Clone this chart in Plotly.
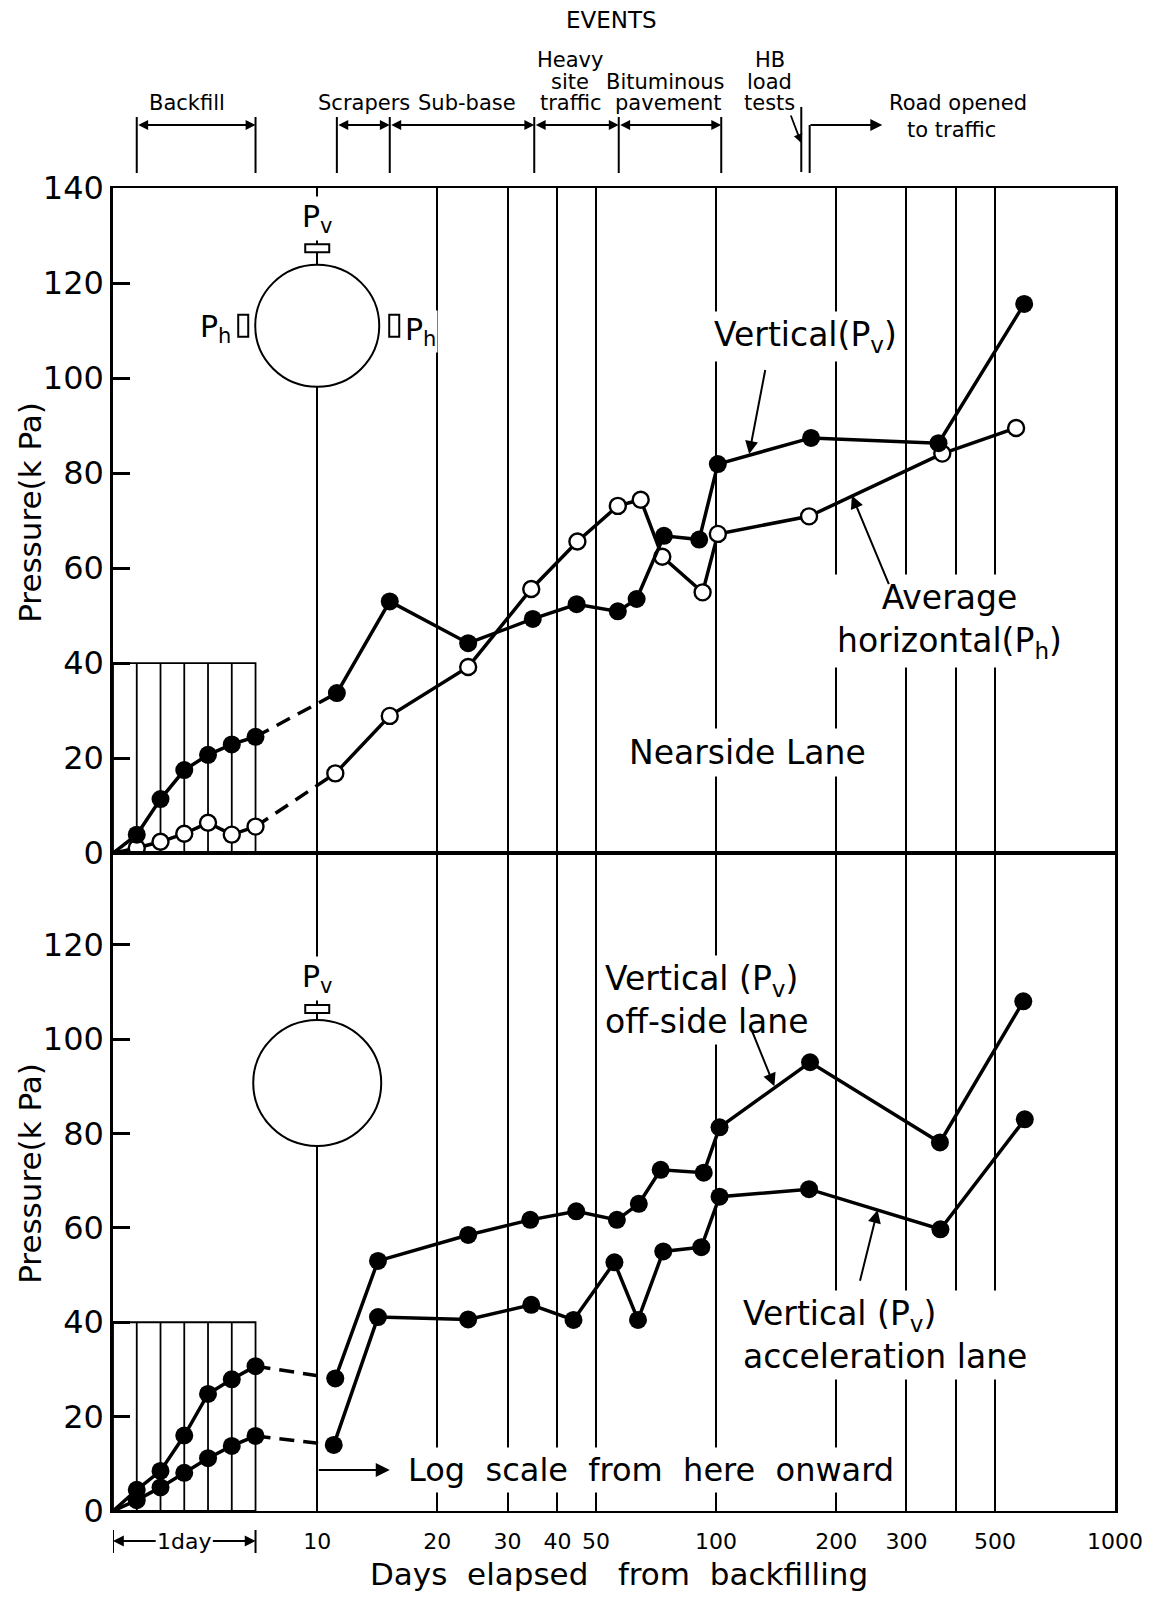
import math
import plotly.graph_objects as go
from plotly.subplots import make_subplots

# ---------------- data ----------------
HOURS = [0, 4, 8, 12, 16, 20, 24]          # first day (linear part of axis), hours

# Nearside lane (top panel)
NEAR_PV_FIRSTDAY = [0, 3.9, 11.4, 17.5, 20.7, 22.9, 24.5]
NEAR_PV_DAYS = [11.2, 15.2, 23.9, 34.7, 44.7, 56.7, 63.2, 74, 90.7, 101, 173, 361, 592]
NEAR_PV = [33.7, 53.0, 44.2, 49.3, 52.4, 50.9, 53.5, 66.8, 66.0, 81.9, 87.4, 86.3, 115.6]

NEAR_PH_FIRSTDAY = [0, 1.1, 2.4, 4.1, 6.4, 3.9, 5.6]
NEAR_PH_DAYS = [11.1, 15.2, 23.9, 34.4, 44.9, 56.7, 64.7, 73.3, 92.5, 101, 171, 369, 565]
NEAR_PH = [16.8, 28.9, 39.2, 55.6, 65.6, 73.1, 74.4, 62.4, 54.9, 67.2, 70.9, 84.1, 89.5]

# Bottom panel
OFF_PV_FIRSTDAY = [0, 4.5, 8.5, 16.0, 24.8, 27.9, 30.7]
OFF_PV_DAYS = [11.1, 14.2, 23.9, 34.2, 44.6, 56.4, 64, 72.6, 93.1, 102, 172, 364, 589]
OFF_PV = [28.1, 53.0, 58.5, 61.7, 63.5, 61.7, 65.1, 72.3, 71.7, 81.3, 95.1, 78.1, 108.0]

ACC_PV_FIRSTDAY = [0, 2.3, 5.0, 8.1, 11.2, 13.8, 15.9]
ACC_PV_DAYS = [11.0, 14.2, 23.9, 34.4, 43.9, 55.6, 63.7, 73.7, 91.8, 102, 171, 365, 594]
ACC_PV = [14.0, 41.1, 40.6, 43.7, 40.5, 52.7, 40.5, 55.0, 55.9, 66.6, 68.2, 59.7, 83.0]

XTICK_DAYS = [10, 20, 30, 40, 50, 100, 200, 300, 400, 500, 1000]
XTICK_TEXT = ["10", "20", "30", "40", "50", "100", "200", "300", "", "500", "1000"]
YTICKS_TOP = [0, 20, 40, 60, 80, 100, 120, 140]
YTICKS_BOTTOM = [0, 20, 40, 60, 80, 100, 120]

# event boundaries (days) and spans
EVENT_BOUNDS = [4 / 24, 1, 11.2, 15.2, 35, 57, 103]
EVENT_SPANS = [(4 / 24, 1), (11.2, 15.2), (15.2, 35), (35, 57), (57, 103)]
HB_TEST_DAY = 163.5
ROAD_OPEN_DAY = 171.6

# ---------------- axis scale: linear first day, broken, log from day 10 ----------------
DAY_UNIT = 144 / 403     # axis units per day on the linear first-day part
LOG_START = 0.512        # axis position of day 10 (start of log part, 1 unit per decade)


def xpos(days):
    if days <= 1:
        return days * DAY_UNIT
    return LOG_START + math.log10(days / 10.0)


XMAX = xpos(1000)

# the page body has an 8 px margin, so the figure is made 8 px smaller
BODY = 8
W, H = 1155 - BODY, 1598 - BODY
ML, MR, MT, MB = 105, 30, 180, 87
PW = W - ML - MR
PH = H - MT - MB
BOTTOM_FRAC = 0.4972


def pxx(p):   # paper x from page pixel column (layout helper for text)
    return (p - BODY - ML) / PW


def pxy(p):   # paper y from page pixel row
    return (H - MB - (p - BODY)) / PH


FONT = "DejaVu Sans"
BLACK = "black"
LW = 3.5

fig = make_subplots(rows=2, cols=1, vertical_spacing=0)


def add_series(row, firstday, days, vals, open_marker):
    marker = dict(size=16 if open_marker else 18,
                  color="white" if open_marker else BLACK,
                  line=dict(color=BLACK, width=2.4 if open_marker else 0))
    xd = [xpos(h / 24) for h in HOURS]
    fig.add_trace(go.Scatter(x=xd, y=firstday, mode="lines",
                             line=dict(color=BLACK, width=LW), hoverinfo="skip"),
                  row=row, col=1)
    fig.add_trace(go.Scatter(x=[xd[-1], xpos(days[0])], y=[firstday[-1], vals[0]],
                             mode="lines",
                             line=dict(color=BLACK, width=LW, dash="15px,9px"),
                             hoverinfo="skip"), row=row, col=1)
    fig.add_trace(go.Scatter(x=[xpos(d) for d in days], y=vals, mode="lines",
                             line=dict(color=BLACK, width=LW), hoverinfo="skip"),
                  row=row, col=1)
    fig.add_trace(go.Scatter(x=xd[1:] + [xpos(d) for d in days],
                             y=list(firstday[1:]) + list(vals), mode="markers",
                             marker=marker, hoverinfo="skip"), row=row, col=1)


add_series(1, NEAR_PH_FIRSTDAY, NEAR_PH_DAYS, NEAR_PH, True)
add_series(1, NEAR_PV_FIRSTDAY, NEAR_PV_DAYS, NEAR_PV, False)
add_series(2, OFF_PV_FIRSTDAY, OFF_PV_DAYS, OFF_PV, False)
add_series(2, ACC_PV_FIRSTDAY, ACC_PV_DAYS, ACC_PV, False)

xt = [xpos(d) for d in XTICK_DAYS]
xaxis_common = dict(range=[0, XMAX], tickvals=xt, ticktext=XTICK_TEXT, ticks="",
                    showgrid=True, gridcolor=BLACK, gridwidth=1.6,
                    showline=True, mirror=True, linecolor=BLACK, linewidth=2,
                    zeroline=False, fixedrange=True)
yaxis_common = dict(ticks="inside", ticklen=17, tickwidth=2.5, tickcolor=BLACK,
                    showgrid=False, showline=True, mirror=True, linecolor=BLACK,
                    linewidth=2.5, zeroline=False,
                    tickfont=dict(family=FONT, size=32, color=BLACK),
                    ticklabelstandoff=0)

fig.update_layout(
    width=W, height=H,
    margin=dict(l=ML, r=MR, t=MT, b=MB),
    paper_bgcolor="white", plot_bgcolor="white",
    showlegend=False,
    font=dict(family=FONT, color=BLACK),
    xaxis=dict(xaxis_common, showticklabels=False),
    xaxis2=dict(xaxis_common, showticklabels=True,
                tickfont=dict(family=FONT, size=22, color=BLACK),
                ticklabelstandoff=10),
    yaxis=dict(yaxis_common, range=[0, 140], tickvals=YTICKS_TOP,
               domain=[BOTTOM_FRAC, 1]),
    yaxis2=dict(yaxis_common, range=[0, 139.4], tickvals=YTICKS_BOTTOM,
                domain=[0, BOTTOM_FRAC]),
)

shapes = []
annotations = []


def txt(**kw):
    d = dict(showarrow=False, xanchor="center", yanchor="middle")
    d.update(kw)
    annotations.append(d)


def arrow(**kw):
    d = dict(text="", showarrow=True, arrowhead=2, arrowsize=1.3, arrowwidth=2,
             arrowcolor=BLACK)
    d.update(kw)
    annotations.append(d)


# hatched first-day block in both panels
for xr, yr in (("x", "y"), ("x2", "y2")):
    shapes.append(dict(type="rect", xref=xr, yref=yr, x0=0, x1=xpos(1), y0=0, y1=40,
                       line=dict(color=BLACK, width=1.8), layer="below"))
    for h in HOURS[1:-1]:
        shapes.append(dict(type="line", xref=xr, yref=yr, x0=xpos(h / 24), x1=xpos(h / 24),
                           y0=0, y1=40, line=dict(color=BLACK, width=1.8), layer="below"))


# pipe sketches
def pipe(xr, yr, cy, r, gauge_y, sides=False):
    shapes.append(dict(type="circle", xref=xr, yref=yr, xsizemode="pixel", ysizemode="pixel",
                       xanchor=xpos(10), yanchor=cy, x0=-r, x1=r, y0=-r + 1, y1=r - 1,
                       line=dict(color=BLACK, width=2), fillcolor="white", layer="above"))
    shapes.append(dict(type="rect", xref=xr, yref=yr, xsizemode="pixel", ysizemode="pixel",
                       xanchor=xpos(10), yanchor=gauge_y, x0=-12, x1=12, y0=-4, y1=4,
                       line=dict(color=BLACK, width=2), fillcolor="white", layer="above"))
    if sides:
        for off in (-74, 77):
            shapes.append(dict(type="rect", xref=xr, yref=yr, xsizemode="pixel",
                               ysizemode="pixel", xanchor=xpos(10), yanchor=cy,
                               x0=off - 5, x1=off + 5, y0=-11, y1=11,
                               line=dict(color=BLACK, width=2), fillcolor="white",
                               layer="above"))


pipe("x", "y", 111.0, 62, 127.3, sides=True)
pipe("x2", "y2", 90.7, 64, 106.4)

lab = dict(family=FONT, size=30, color=BLACK)
txt(xref="x", yref="y", x=xpos(10), y=133.6, text="P<sub>v</sub>", font=lab,
    bgcolor="white", borderpad=2)
txt(xref="x", yref="y", x=xpos(10), y=110.5, xshift=-84, text="P<sub>h</sub>",
    font=lab, bgcolor="white", xanchor="right")
txt(xref="x", yref="y", x=xpos(10), y=109.8, xshift=86, text="P<sub>h</sub>",
    font=lab, bgcolor="white", xanchor="left")
txt(xref="x2", yref="y2", x=xpos(10), y=112.8, text="P<sub>v</sub>", font=lab,
    bgcolor="white", borderpad=2)

big = dict(family=FONT, size=33, color=BLACK)
# top panel labels
txt(xref="x", yref="y", x=xpos(168), y=108.8, text="Vertical(P<sub>v</sub>)",
    font=big, bgcolor="white", borderpad=3)
txt(xref="x", yref="y", x=xpos(385), y=48.8, text="Average<br>horizontal(P<sub>h</sub>)",
    font=big, bgcolor="white", borderpad=3)
txt(xref="x", yref="y", x=xpos(120), y=21.2, text="Nearside Lane", font=big,
    bgcolor="white", borderpad=4)
arrow(xref="x", yref="y", axref="x", ayref="y", x=xpos(121), y=84.0,
      ax=xpos(133), ay=102.0)
arrow(xref="x", yref="y", axref="x", ayref="y", x=xpos(219), y=75.3,
      ax=xpos(272), ay=56.3)

# bottom panel labels
txt(xref="x2", yref="y2", x=xpos(51.5), y=108.3,
    text="Vertical (P<sub>v</sub>)<br>off-side lane", align="left", xanchor="left",
    font=big, bgcolor="white", borderpad=3)
txt(xref="x2", yref="y2", x=xpos(114), y=37.3,
    text="Vertical (P<sub>v</sub>)<br>acceleration lane", align="left", xanchor="left",
    font=big, bgcolor="white", borderpad=3)
arrow(xref="x2", yref="y2", axref="x2", ayref="y2", x=xpos(140), y=90.0,
      ax=xpos(122), ay=102.5)
arrow(xref="x2", yref="y2", axref="x2", ayref="y2", x=xpos(254), y=63.8,
      ax=xpos(229), ay=48.5)
arrow(xref="x2", yref="y2", axref="x2", ayref="y2", x=xpos(15.2), y=8.7,
      ax=xpos(10), ay=8.7, arrowsize=1.4)
txt(xref="x2", yref="y2", x=xpos(16.5), y=8.7, xanchor="left",
    text="Log\u00a0\u00a0scale\u00a0\u00a0from\u00a0\u00a0here\u00a0\u00a0onward",
    font=dict(family=FONT, size=32, color=BLACK), bgcolor="white", borderpad=3)

# axis titles
for yc in (512, 1173):
    txt(xref="paper", yref="paper", x=pxx(29), y=pxy(yc), text="Pressure(k Pa)",
        textangle=-90, font=dict(family=FONT, size=31, color=BLACK))
txt(xref="paper", yref="paper", x=pxx(624), y=pxy(1574),
    text="Days\u00a0\u00a0elapsed\u00a0\u00a0\u00a0from\u00a0\u00a0backfilling",
    font=dict(family=FONT, size=31, color=BLACK))

# 1 day bracket under axis
ybr = pxy(1541)
for d in (0, 1):
    shapes.append(dict(type="line", xref="x2", yref="paper", x0=xpos(d), x1=xpos(d),
                       y0=pxy(1530), y1=pxy(1553), line=dict(color=BLACK, width=2)))
txt(xref="x2", yref="paper", x=xpos(0.5), y=ybr, text="1day",
    font=dict(family=FONT, size=22, color=BLACK))
arrow(xref="x2", yref="paper", axref="x2", ayref="pixel", x=xpos(0), y=ybr,
      ax=xpos(0.31), ay=0, arrowsize=1.2, arrowwidth=1.8)
arrow(xref="x2", yref="paper", axref="x2", ayref="pixel", x=xpos(1), y=ybr,
      ax=xpos(0.69), ay=0, arrowsize=1.2, arrowwidth=1.8)

# ---------------- events strip above plot ----------------
for d in EVENT_BOUNDS:
    shapes.append(dict(type="line", xref="x", yref="paper", x0=xpos(d), x1=xpos(d),
                       y0=pxy(173), y1=pxy(117), line=dict(color=BLACK, width=2)))
for a, b in EVENT_SPANS:
    arrow(xref="x", yref="paper", axref="x", ayref="pixel", x=xpos(b), y=pxy(125),
          ax=xpos(a), ay=0, arrowside="end+start", arrowsize=1.1, arrowwidth=1.8)
# HB load tests marker and road opened bracket
shapes.append(dict(type="line", xref="x", yref="paper", x0=xpos(HB_TEST_DAY),
                   x1=xpos(HB_TEST_DAY), y0=pxy(172), y1=pxy(107),
                   line=dict(color=BLACK, width=2)))
arrow(xref="x", yref="paper", axref="pixel", ayref="pixel", x=xpos(HB_TEST_DAY),
      y=pxy(143), ax=-11, ay=-29, arrowsize=1.0, arrowwidth=1.8)
shapes.append(dict(type="line", xref="x", yref="paper", x0=xpos(ROAD_OPEN_DAY),
                   x1=xpos(ROAD_OPEN_DAY), y0=pxy(173), y1=pxy(125),
                   line=dict(color=BLACK, width=2)))
road_px = BODY + ML + xpos(ROAD_OPEN_DAY) * PW / XMAX
arrow(xref="paper", yref="paper", axref="pixel", ayref="pixel", x=pxx(890), y=pxy(125),
      ax=-(890 - road_px), ay=0, arrowsize=1.2)

ev_labels = [("EVENTS", 616, 20, 23), ("Backfill", 188, 103, 21),
             ("Scrapers", 367, 103, 21), ("Sub-base", 471, 103, 21),
             ("Heavy", 575, 60, 21), ("site", 575, 82, 21), ("traffic", 576, 103, 21),
             ("Bituminous", 671, 82, 21), ("pavement", 674, 103, 21),
             ("HB", 777, 60, 21), ("load", 776, 82, 21), ("tests", 776, 103, 21),
             ("Road opened", 966, 103, 21), ("to traffic", 960, 130, 21)]
for t_, x_, y_, fs in ev_labels:
    txt(xref="paper", yref="paper", x=pxx(x_), y=pxy(y_), text=t_,
        font=dict(family=FONT, size=fs, color=BLACK))

fig.update_layout(shapes=shapes, annotations=annotations)
fig.write_html("out.html")
